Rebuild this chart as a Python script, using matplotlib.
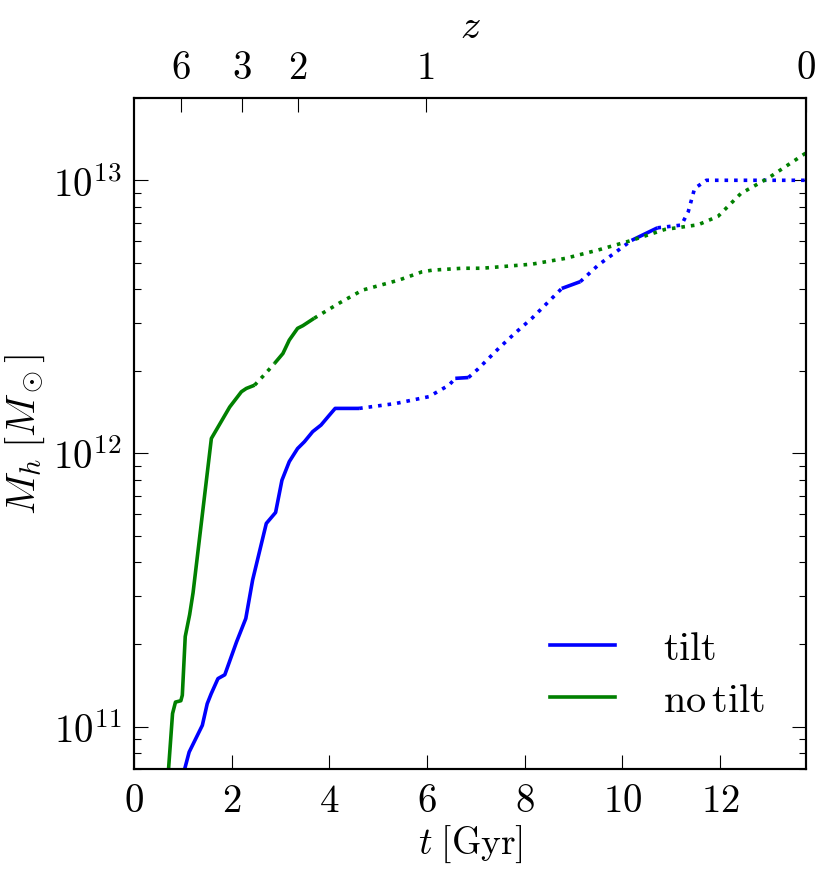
"""
Halo mass growth for the tilt / no-tilt runs.
Solid where the flag is on, dotted where it is off.
"""
import numpy as np
import matplotlib
matplotlib.use("Agg")
import matplotlib.pyplot as plt
from matplotlib.lines import Line2D
from matplotlib.ticker import FixedLocator, FuncFormatter, LogLocator, NullFormatter

plt.rcParams["mathtext.fontset"] = "cm"
plt.rcParams["font.family"] = ["DejaVu Serif"]

# --- data (t in Gyr, log10 Mh in Msun) ---
tilt_t = [1.00, 1.04, 1.13, 1.40, 1.50, 1.58, 1.72, 1.86, 2.10, 2.29, 2.43, 2.71,
          2.90, 3.03, 3.18, 3.35, 3.49, 3.66, 3.83, 4.00, 4.12, 4.61, 5.36, 6.04,
          6.45, 6.58, 6.85, 7.05, 7.47, 7.80, 8.15, 8.76, 9.14, 9.51, 10.19, 10.72,
          11.21, 11.35, 11.48, 11.72, 13.76]
tilt_logm = [10.80, 10.846, 10.907, 11.005, 11.084, 11.12, 11.176, 11.19, 11.31, 11.396,
             11.537, 11.744, 11.784, 11.902, 11.97, 12.018, 12.043, 12.08, 12.104, 12.14,
             12.165, 12.165, 12.183, 12.208, 12.25, 12.275, 12.278, 12.31, 12.385, 12.44,
             12.495, 12.604, 12.629, 12.69, 12.78, 12.826, 12.836, 12.885, 12.97, 13.0, 13.0]
# flag for each step i -> i+1 (1 = solid)
tilt_flag = [1] * 21 + [0] * 4 + [1] + [0] * 5 + [1] + [0] * 2 + [1] + [0] * 5

notilt_t = [0.69, 0.79, 0.85, 0.96, 0.99, 1.05, 1.14, 1.21, 1.585, 1.96, 2.20, 2.30,
            2.47, 2.68, 2.88, 3.05, 3.18, 3.35, 3.46, 3.69, 4.20, 4.68, 5.43, 5.90,
            6.11, 6.72, 7.13, 8.15, 8.83, 9.51, 10.19, 10.87, 11.55, 11.96, 12.43,
            12.98, 13.76]
notilt_logm = [10.80, 11.048, 11.09, 11.095, 11.115, 11.33, 11.41, 11.49, 12.055, 12.17,
               12.226, 12.238, 12.25, 12.29, 12.33, 12.366, 12.415, 12.458, 12.468, 12.495,
               12.55, 12.598, 12.635, 12.665, 12.671, 12.678, 12.678, 12.693, 12.714,
               12.745, 12.78, 12.82, 12.837, 12.868, 12.952, 13.007, 13.10]
notilt_flag = [1] * 12 + [0] * 2 + [1] * 5 + [0] * 17

z_ticks = [6, 3, 2, 1, 0]
z_ages = [0.96, 2.21, 3.36, 5.97, 13.76]   # cosmic time at those z
t_ticks = [0, 2, 4, 6, 8, 10, 12]
t_max = 13.76

LW = 2.6


def draw_run(ax, t, logm, flag, colour):
    t = np.asarray(t)
    m = 10 ** np.asarray(logm)
    start = 0
    for i in range(1, len(flag) + 1):
        if i == len(flag) or flag[i] != flag[start]:
            ls = "-" if flag[start] else ":"
            ax.plot(t[start:i + 1], m[start:i + 1], color=colour, lw=LW, ls=ls,
                    solid_capstyle="butt")
            start = i


fig = plt.figure(figsize=(8.3, 8.78), dpi=100)
ax = fig.add_axes([0.1614, 0.123, 0.8096, 0.7642])

draw_run(ax, tilt_t, tilt_logm, tilt_flag, "#0000ff")
draw_run(ax, notilt_t, notilt_logm, notilt_flag, "#008000")

ax.set_yscale("log")
ax.set_xlim(0, t_max)
ax.set_ylim(7.0e10, 2.0e13)
ax.xaxis.set_major_locator(FixedLocator(t_ticks))
ax.xaxis.set_major_formatter(FuncFormatter(lambda v, p: r"$%d$" % v))
ax.yaxis.set_major_locator(LogLocator(base=10))
ax.yaxis.set_minor_locator(LogLocator(base=10, subs=np.arange(2, 10)))
ax.yaxis.set_major_formatter(FuncFormatter(lambda v, p: r"$10^{%d}$" % round(np.log10(v))))
ax.yaxis.set_minor_formatter(NullFormatter())
ax.yaxis.set_ticks_position("both")
ax.tick_params(which="major", direction="in", length=10, width=0.8, labelsize=28, pad=9)
ax.tick_params(which="minor", direction="in", length=5, width=0.8)
for s in ax.spines.values():
    s.set_linewidth(1.5)

ax.set_xlabel(r"$t\;[\mathrm{Gyr}]$", fontsize=27, labelpad=3)
ax.set_ylabel(r"$M_h\;[M_\odot]$", fontsize=29, labelpad=4)

ax2 = ax.twiny()
ax2.set_xlim(0, t_max)
ax2.xaxis.set_major_locator(FixedLocator(z_ages))
ax2.xaxis.set_major_formatter(FuncFormatter(lambda v, p: r"$%d$" % z_ticks[p]))
ax2.tick_params(which="major", direction="in", length=10, width=0.8, labelsize=28, pad=9)
ax2.set_xlabel(r"$z$", fontsize=29, labelpad=8)
for s in ax2.spines.values():
    s.set_linewidth(1.5)

handles = [Line2D([], [], color="#0000ff", lw=LW), Line2D([], [], color="#008000", lw=LW)]
ax.legend(handles, [r"$\mathrm{tilt}$", r"$\mathrm{no\,tilt}$"], loc="lower right",
          bbox_to_anchor=(0.962, 0.05), frameon=False, fontsize=29, handlelength=1.61,
          handletextpad=1.19, labelspacing=0.37, borderaxespad=0.0)

fig.savefig("out.png", dpi=100)
